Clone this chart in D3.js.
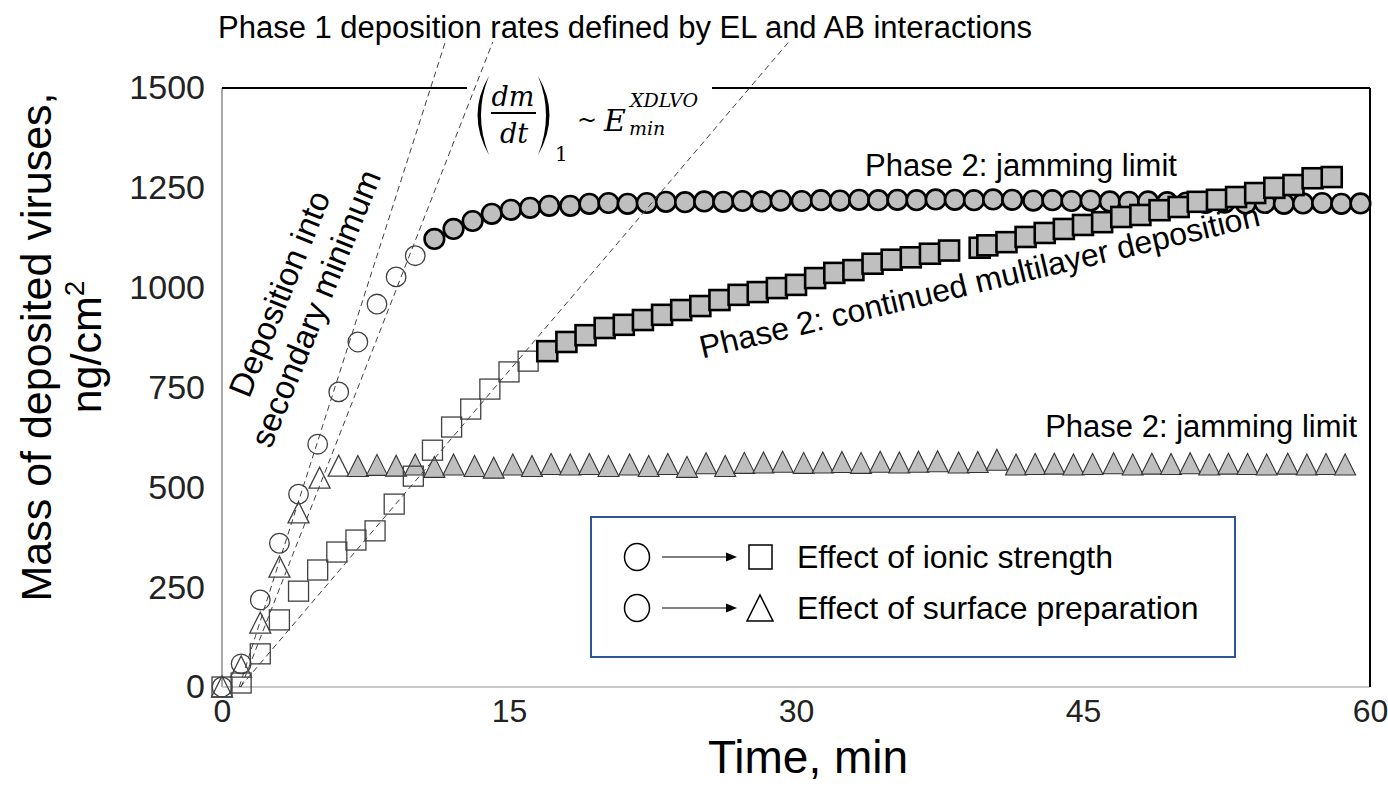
<!DOCTYPE html>
<html>
<head>
<meta charset="utf-8">
<script src="https://cdn.jsdelivr.net/npm/d3@7"></script>
<style>
  html, body { margin: 0; background: #fff; }
  svg { display: block; }
  .sans { font-family: "Liberation Sans", Arial, sans-serif; }
  .math { font-family: "DejaVu Serif", "Liberation Serif", serif; }
</style>
</head>
<body>
<svg id="chart" width="1388" height="796"></svg>
<script>
// ---- data: deposited virus mass (ng/cm2) vs time (min) ----
const circleTime = [0, 1.0, 2.0, 3.0, 4.0, 5.0, 6.1, 7.1, 8.1, 9.1, 10.1, 11.1, 12.1, 13.1, 14.1, 15.1, 16.1, 17.1, 18.2, 19.2,
  20.2, 21.2, 22.2, 23.2, 24.2, 25.2, 26.2, 27.2, 28.2, 29.2, 30.3, 31.3, 32.3, 33.3, 34.3, 35.3, 36.3, 37.3, 38.3, 39.3,
  40.3, 41.3, 42.4, 43.4, 44.4, 45.4, 46.4, 47.4, 48.4, 49.4, 50.4, 51.4, 52.4, 53.5, 54.5, 55.5, 56.5, 57.5, 58.5, 59.5];
const circleMass = [0, 58, 218, 360, 483, 608, 739, 864, 959, 1027, 1080, 1122, 1147, 1167, 1185, 1195, 1200, 1205, 1205, 1210,
  1212, 1210, 1212, 1215, 1214, 1216, 1215, 1217, 1216, 1218, 1217, 1219, 1218, 1220, 1219, 1220, 1219, 1221, 1220, 1219,
  1221, 1220, 1218, 1219, 1217, 1218, 1216, 1215, 1216, 1214, 1213, 1212, 1213, 1211, 1212, 1210, 1211, 1212, 1210, 1211];
const circlePhase1Count = 11;

const squareTime = [0, 1, 2, 3, 4, 5, 6, 7, 8, 9, 10, 11, 12, 13, 14, 15, 16, 17, 18, 19,
  20, 21, 22, 23, 24, 25, 26, 27, 28, 29, 30, 31, 32, 33, 34, 35, 36, 37, 38, 39.6,
  40, 41, 42, 43, 44, 45, 46, 47, 48, 49, 50, 51, 52, 53, 54, 55, 56, 57, 58];
const squareMass = [0, 10, 83, 168, 240, 293, 338, 368, 391, 458, 528, 593, 651, 696, 746, 789, 816, 841, 864, 881,
  899, 907, 919, 932, 944, 954, 969, 982, 989, 999, 1007, 1024, 1037, 1044, 1060, 1070, 1076, 1085, 1093, 1100,
  1106, 1114, 1127, 1137, 1147, 1157, 1164, 1177, 1182, 1194, 1202, 1215, 1220, 1227, 1237, 1250, 1257, 1274, 1277];
const squarePhase1Count = 17;

const triangleTime = [0, 1.0, 2.0, 3.0, 4.0, 5.1, 6.1, 7.1, 8.1, 9.1, 10.1, 11.1, 12.1, 13.2, 14.2, 15.2, 16.2, 17.2, 18.2, 19.2,
  20.2, 21.3, 22.3, 23.3, 24.3, 25.3, 26.3, 27.3, 28.3, 29.3, 30.4, 31.4, 32.4, 33.4, 34.4, 35.4, 36.4, 37.4, 38.5, 39.5,
  40.5, 41.5, 42.5, 43.5, 44.5, 45.5, 46.6, 47.6, 48.6, 49.6, 50.6, 51.6, 52.6, 53.6, 54.6, 55.7, 56.7, 57.7, 58.7];
const triangleMass = [0, 50, 160, 300, 436, 523, 553, 552, 555, 553, 556, 550, 556, 552, 548, 556, 552, 557, 556, 557,
  552, 556, 552, 557, 550, 559, 552, 560, 561, 563, 560, 561, 562, 560, 563, 561, 563, 564, 561, 562,
  568, 556, 557, 558, 556, 557, 559, 556, 558, 557, 559, 556, 558, 557, 556, 558, 556, 557, 556];
const trianglePhase1Count = 7;

// Phase 1 rate guide lines: [t0, m0, t1, m1]
const guideLines = [
  [0.9, 0, 11.7, 1620],
  [1.0, 0, 14.15, 1615],
  [0.95, 0, 29.7, 1620]
];

const xTicks = [0, 15, 30, 45, 60];
const yTicks = [0, 250, 500, 750, 1000, 1250, 1500];

// ---- layout ----
const svg = d3.select("#chart");
const x = d3.scaleLinear().domain([0, 60]).range([222, 1370]);
const y = d3.scaleLinear().domain([0, 1500]).range([687, 88]);

const GRAY = "#BFBFBF";

// axes (labels only)
const yAxis = svg.append("g")
  .attr("transform", `translate(${x(0)},0)`)
  .call(d3.axisLeft(y).tickValues(yTicks).tickSize(0).tickPadding(17).tickFormat(d3.format("d")));
yAxis.select(".domain").remove();
yAxis.selectAll("text").attr("class", "sans").style("font-size", "34px").attr("fill", "#222");

const xAxis = svg.append("g")
  .attr("transform", `translate(0,${y(0)})`)
  .call(d3.axisBottom(x).tickValues(xTicks).tickSize(0).tickPadding(12).tickFormat(d3.format("d")));
xAxis.select(".domain").remove();
xAxis.selectAll("text").attr("class", "sans").style("font-size", "32px").attr("fill", "#222");

// frame
svg.append("line").attr("x1", x(0)).attr("x2", x(0)).attr("y1", y(1500)).attr("y2", y(0))
  .attr("stroke", "#8C8C8C").attr("stroke-width", 1.5);
svg.append("line").attr("x1", x(0)).attr("x2", x(60)).attr("y1", y(0)).attr("y2", y(0))
  .attr("stroke", "#C8C8C8").attr("stroke-width", 2);
svg.append("line").attr("x1", x(60)).attr("x2", x(60)).attr("y1", y(1500)).attr("y2", y(0))
  .attr("stroke", "#000").attr("stroke-width", 2);
svg.append("line").attr("x1", x(0)).attr("x2", 467).attr("y1", y(1500)).attr("y2", y(1500))
  .attr("stroke", "#000").attr("stroke-width", 2);
svg.append("line").attr("x1", 712).attr("x2", x(60)).attr("y1", y(1500)).attr("y2", y(1500))
  .attr("stroke", "#000").attr("stroke-width", 2);

// axis titles
svg.append("text").attr("class", "sans").attr("x", 808).attr("y", 773).attr("text-anchor", "middle")
  .style("font-size", "46px").attr("fill", "#000").text("Time, min");
const yTitle = svg.append("text").attr("class", "sans").attr("transform", "translate(51,347) rotate(-90)")
  .attr("text-anchor", "middle").style("font-size", "43px").attr("fill", "#000");
yTitle.append("tspan").attr("x", 0).attr("y", 0).text("Mass of deposited viruses,");
yTitle.append("tspan").attr("x", 0).attr("y", 50).text("ng/cm");
yTitle.append("tspan").attr("dy", -17).style("font-size", "28px").text("2");

// markers
const markers = svg.append("g");
function series(times, mass, phase1Count) {
  return times.map((t, i) => ({ t, m: mass[i], open: i < phase1Count }));
}
const circles = series(circleTime, circleMass, circlePhase1Count);
const squares = series(squareTime, squareMass, squarePhase1Count);
const triangles = series(triangleTime, triangleMass, trianglePhase1Count);

markers.selectAll("circle.c").data(circles).join("circle")
  .attr("cx", d => x(d.t)).attr("cy", d => y(d.m)).attr("r", 9.8)
  .attr("fill", d => d.open ? "none" : GRAY)
  .attr("stroke", d => d.open ? "#404040" : "#000")
  .attr("stroke-width", d => d.open ? 1.3 : 2.6);

const triPath = (cx, cy) => `M${cx - 10.5},${cy + 10}L${cx + 10.5},${cy + 10}L${cx},${cy - 11}Z`;
markers.selectAll("path.t").data(triangles).join("path")
  .attr("d", d => triPath(x(d.t), y(d.m)))
  .attr("fill", d => d.open ? "none" : GRAY)
  .attr("stroke", d => d.open ? "#404040" : "#333")
  .attr("stroke-width", d => d.open ? 1.3 : 1.1);

markers.selectAll("rect.s").data(squares).join("rect")
  .attr("x", d => x(d.t) - 10).attr("y", d => y(d.m) - 10)
  .attr("width", 20).attr("height", 20)
  .attr("fill", d => d.open ? "none" : GRAY)
  .attr("stroke", d => d.open ? "#404040" : "#000")
  .attr("stroke-width", d => d.open ? 1.3 : 2.6);

// guide lines
svg.append("g").selectAll("line").data(guideLines).join("line")
  .attr("x1", d => x(d[0])).attr("y1", d => y(d[1]))
  .attr("x2", d => x(d[2])).attr("y2", d => y(d[3]))
  .attr("stroke", "#404040").attr("stroke-width", 1).attr("stroke-dasharray", "6,4");

// annotations
const note = (sel) => sel.attr("class", "sans").attr("fill", "#000");
svg.append("text").call(note).attr("x", 218).attr("y", 38).style("font-size", "31px")
  .text("Phase 1 deposition rates defined by EL and AB interactions");
svg.append("text").call(note).attr("x", 1021).attr("y", 176).attr("text-anchor", "middle")
  .style("font-size", "31px").text("Phase 2: jamming limit");
svg.append("text").call(note).attr("x", 1357).attr("y", 437).attr("text-anchor", "end")
  .style("font-size", "31px").text("Phase 2: jamming limit");
svg.append("text").call(note).attr("transform", "translate(982,292) rotate(-13.4)").attr("text-anchor", "middle")
  .style("font-size", "32px").text("Phase 2: continued multilayer deposition");
const dep = svg.append("text").call(note).attr("transform", "translate(290,298) rotate(-68)")
  .attr("text-anchor", "middle").style("font-size", "33px");
dep.append("tspan").attr("x", 0).attr("y", 0).text("Deposition into");
dep.append("tspan").attr("x", 0).attr("y", 39).text("secondary minimum");

// rate expression (dm/dt)_1 ~ E_min^XDLVO
const eq = svg.append("g").attr("fill", "#000");
const mathText = (px, py, size, italic, str) => eq.append("text").attr("class", "math")
  .attr("x", px).attr("y", py).style("font-size", size + "px")
  .style("font-style", italic ? "italic" : "normal").text(str);
eq.append("path").attr("d", "M489,76 Q466,115 489,155 Q473,115 489,76 Z");
eq.append("path").attr("d", "M538,76 Q561,115 538,155 Q554,115 538,76 Z");
mathText(513, 106, 27, true, "dm").attr("text-anchor", "middle");
eq.append("line").attr("x1", 491).attr("x2", 536).attr("y1", 113).attr("y2", 113)
  .attr("stroke", "#000").attr("stroke-width", 2);
mathText(514, 143, 27, true, "dt").attr("text-anchor", "middle");
mathText(555, 161, 20, false, "1");
mathText(577, 128, 24, false, "~");
mathText(604, 131, 30, true, "E");
mathText(630, 107, 19, true, "XDLVO");
mathText(629, 135, 19, true, "min");

// legend
const lg = svg.append("g");
lg.append("rect").attr("x", 591).attr("y", 517).attr("width", 644).attr("height", 140)
  .attr("fill", "#fff").attr("stroke", "#2F5597").attr("stroke-width", 2);
const legendRows = [
  { y: 557, shape: "square", label: "Effect of ionic strength" },
  { y: 608, shape: "triangle", label: "Effect of surface preparation" }
];
legendRows.forEach(r => {
  lg.append("ellipse").attr("cx", 637).attr("cy", r.y).attr("rx", 12.5).attr("ry", 13.5)
    .attr("fill", "none").attr("stroke", "#000").attr("stroke-width", 1.5);
  lg.append("line").attr("x1", 662).attr("x2", 727).attr("y1", r.y).attr("y2", r.y)
    .attr("stroke", "#000").attr("stroke-width", 1.2);
  lg.append("path").attr("d", `M737,${r.y}L726,${r.y - 4.5}L726,${r.y + 4.5}Z`).attr("fill", "#000");
  if (r.shape === "square") {
    lg.append("rect").attr("x", 749).attr("y", r.y - 12).attr("width", 23).attr("height", 24)
      .attr("fill", "none").attr("stroke", "#000").attr("stroke-width", 1.5);
  } else {
    lg.append("path").attr("d", `M747,${r.y + 13}L773,${r.y + 13}L760,${r.y - 13}Z`)
      .attr("fill", "none").attr("stroke", "#000").attr("stroke-width", 1.5);
  }
  lg.append("text").call(note).attr("x", 797).attr("y", r.y + 11).style("font-size", "32px").text(r.label);
});
</script>
</body>
</html>
